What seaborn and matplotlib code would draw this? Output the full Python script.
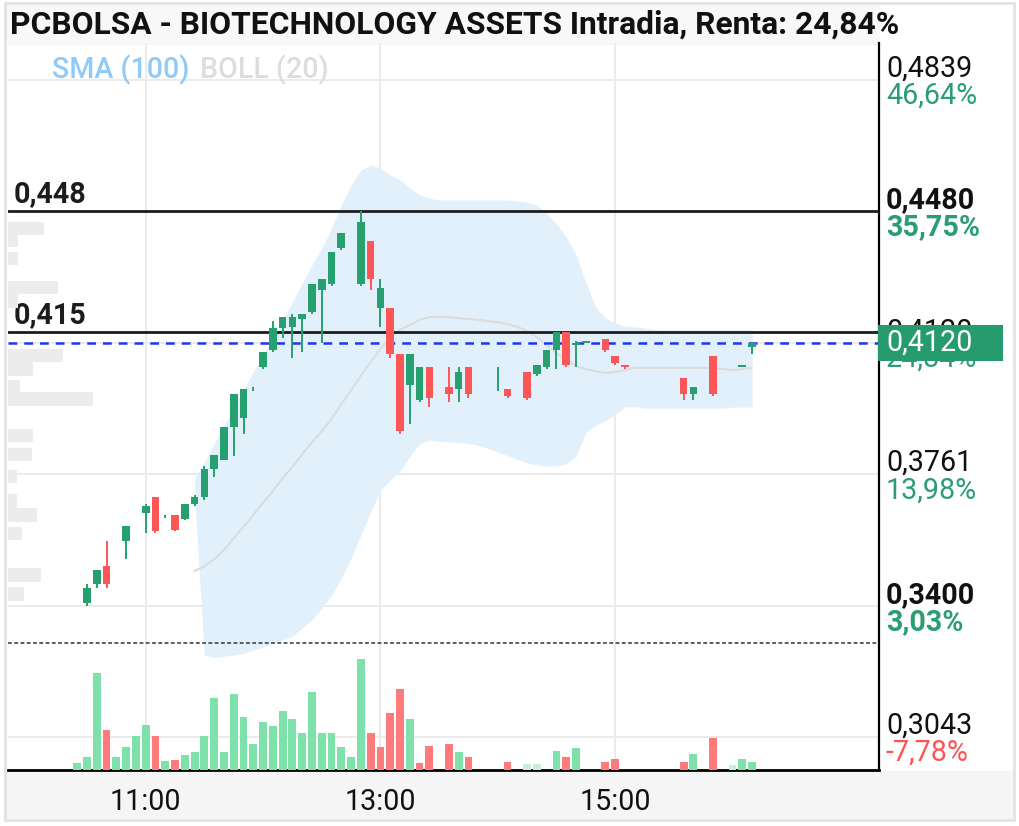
import numpy as np
import matplotlib
matplotlib.use("Agg")
import matplotlib.pyplot as plt
import matplotlib.transforms as mtransforms
from matplotlib.patches import Rectangle
import seaborn as sns

# ---------------- data ----------------
TITLE = "PCBOLSA - BIOTECHNOLOGY ASSETS Intradia, Renta: 24,84%"
PREV_CLOSE = 0.33
LAST = 0.412

# 5-minute candles, slot index relative to 11:00
candle_slot = [-6, -5, -4, -2, 0, 1, 2, 3, 4, 5, 6, 7, 8, 9, 10, 11, 12, 13, 14, 15,
               16, 17, 18, 19, 20, 22, 23, 24, 25, 26, 27, 28, 29, 31, 32, 33, 36, 37,
               39, 40, 41, 42, 43, 44, 45, 47, 48, 49, 55, 56, 58, 61, 62]
open_ = [0.341, 0.346, 0.351, 0.358, 0.3655, 0.370, 0.3647, 0.365, 0.364, 0.368,
         0.370, 0.3775, 0.380, 0.389, 0.3915, 0.3995, 0.4055, 0.410, 0.416, 0.4165,
         0.4185, 0.4205, 0.4265, 0.428, 0.438, 0.428, 0.440, 0.4215, 0.4215, 0.409,
         0.4005, 0.3965, 0.4055, 0.400, 0.3995, 0.4055, 0.4025, 0.3995,
         0.404, 0.4035, 0.4055, 0.410, 0.415, 0.4115, 0.412, 0.413, 0.4085, 0.406,
         0.4025, 0.398, 0.4085, 0.4055, 0.411]
high = [0.346, 0.350, 0.358, 0.362, 0.368, 0.370, 0.365, 0.365, 0.368, 0.3705,
        0.3785, 0.3815, 0.389, 0.398, 0.3995, 0.400, 0.4095, 0.418, 0.419, 0.420,
        0.420, 0.428, 0.4295, 0.437, 0.442, 0.448, 0.440, 0.4295, 0.4215, 0.409,
        0.409, 0.4055, 0.4055, 0.4055, 0.4055, 0.4055, 0.4055, 0.3995,
        0.404, 0.406, 0.410, 0.415, 0.415, 0.4125, 0.4125, 0.413, 0.4085, 0.406,
        0.4025, 0.400, 0.4085, 0.406, 0.412]
low = [0.340, 0.345, 0.345, 0.353, 0.360, 0.360, 0.3643, 0.3605, 0.3635, 0.3675,
       0.369, 0.3755, 0.380, 0.381, 0.387, 0.399, 0.405, 0.4095, 0.4135, 0.408,
       0.4095, 0.420, 0.412, 0.4275, 0.4375, 0.4275, 0.4265, 0.4165, 0.408, 0.387,
       0.390, 0.396, 0.3945, 0.396, 0.396, 0.397, 0.399, 0.397,
       0.3965, 0.403, 0.405, 0.405, 0.4055, 0.4055, 0.412, 0.4095, 0.406, 0.405,
       0.3965, 0.3965, 0.3975, 0.4055, 0.409]
close = [0.345, 0.350, 0.346, 0.362, 0.3675, 0.3605, 0.3647, 0.361, 0.368, 0.370,
         0.3775, 0.3815, 0.389, 0.398, 0.3995, 0.3995, 0.4095, 0.416, 0.419, 0.419,
         0.420, 0.428, 0.4295, 0.437, 0.442, 0.445, 0.4295, 0.427, 0.409, 0.388,
         0.409, 0.4055, 0.397, 0.398, 0.404, 0.398, 0.4025, 0.3975,
         0.397, 0.406, 0.410, 0.415, 0.406, 0.412, 0.4125, 0.410, 0.4065, 0.4055,
         0.398, 0.400, 0.398, 0.406, 0.412]

# volume per 5-minute slot
vol_slot = [-7, -6, -5, -4, -3, -2, -1, 0, 1, 2, 3, 4, 5, 6, 7, 8, 9, 10, 11, 12,
            13, 14, 15, 16, 17, 18, 19, 20, 21, 22, 23, 24, 25, 26, 27, 28, 29,
            31, 32, 33, 37, 39, 40, 42, 43, 44, 47, 48, 55, 56, 58, 60, 61, 62]
volume = [73, 127, 973, 400, 127, 233, 340, 447, 343, 93, 100, 150, 177, 343, 723,
          183, 757, 533, 260, 483, 443, 593, 510, 367, 780, 367, 367, 233, 127, 1107,
          373, 233, 567, 807, 510, 67, 240, 260, 183, 133, 77, 57, 57, 190, 133, 217,
          77, 110, 77, 157, 323, 50, 107, 77]
vol_dir = ["u", "u", "u", "d", "u", "u", "u", "u", "d", "u", "d", "u", "u", "u", "u",
           "u", "u", "u", "u", "u", "u", "u", "u", "u", "u", "u", "u", "u", "u", "u",
           "d", "d", "d", "d", "u", "d", "d", "d", "u", "d", "d", "f", "f", "u", "d",
           "u", "d", "d", "d", "u", "d", "f", "u", "u"]

# Bollinger (20) bands, slots 5..62
band_slot = list(range(5, 63))
boll_upper = [0.3751, 0.3795, 0.3844, 0.3896, 0.3942, 0.3991, 0.4041, 0.4087, 0.4134, 0.4183,
              0.4232, 0.4284, 0.4333, 0.4380, 0.4434, 0.4497, 0.4552, 0.4593, 0.4607, 0.4598,
              0.4579, 0.4566, 0.4544, 0.4525, 0.4516, 0.4511, 0.4511, 0.4511, 0.4511, 0.4511,
              0.4511, 0.4511, 0.4511, 0.4508, 0.4505, 0.4497, 0.4475, 0.4445, 0.4410, 0.4361,
              0.4287, 0.4218, 0.4188, 0.4175, 0.4166, 0.4164, 0.4161, 0.4158, 0.4156, 0.4156,
              0.4156, 0.4156, 0.4156, 0.4156, 0.4156, 0.4156, 0.4156, 0.4156]
boll_lower = [0.3700, 0.3267, 0.3261, 0.3264, 0.3267, 0.3272, 0.3281, 0.3289, 0.3300, 0.3308,
              0.3319, 0.3341, 0.3363, 0.3395, 0.3431, 0.3477, 0.3532, 0.3595, 0.3658, 0.3718,
              0.3745, 0.3770, 0.3810, 0.3845, 0.3855, 0.3852, 0.3850, 0.3848, 0.3846, 0.3840,
              0.3832, 0.3822, 0.3812, 0.3802, 0.3792, 0.3787, 0.3784, 0.3784, 0.3790, 0.3811,
              0.3875, 0.3895, 0.3908, 0.3925, 0.3945, 0.3946, 0.3942, 0.3942, 0.3942, 0.3942,
              0.3942, 0.3942, 0.3942, 0.3942, 0.3942, 0.3945, 0.3945, 0.3945]
boll_mid = [0.3497, 0.3510, 0.3529, 0.3554, 0.3587, 0.3617, 0.3650, 0.3683, 0.3715, 0.3751,
            0.3781, 0.3816, 0.3849, 0.3879, 0.3912, 0.3953, 0.3991, 0.4030, 0.4068, 0.4104,
            0.4134, 0.4156, 0.4169, 0.4183, 0.4191, 0.4191, 0.4191, 0.4188, 0.4186, 0.4183,
            0.4180, 0.4177, 0.4172, 0.4164, 0.4153, 0.4136, 0.4114, 0.4093, 0.4074, 0.4057,
            0.4049, 0.4043, 0.4038, 0.4041, 0.4046, 0.4052, 0.4052, 0.4052, 0.4052, 0.4052,
            0.4052, 0.4052, 0.4052, 0.4052, 0.4049, 0.4046, 0.4049, 0.4052]

# volume-at-price profile (left side)
profile_price = [0.4433, 0.4401, 0.4351, 0.4272, 0.4235, 0.4086, 0.4049, 0.4001, 0.3967,
                 0.3867, 0.3815, 0.3755, 0.3688, 0.3650, 0.3599, 0.3486, 0.3434]
profile_vol = [360, 100, 100, 500, 100, 550, 250, 120, 850, 250, 240, 90, 90, 290, 140, 330, 160]

# right axis ticks
tick_vals = [0.4839, 0.4480, 0.4120, 0.3761, 0.3400, 0.3043]
tick_txt = ["0,4839", "0,4480", "0,4120", "0,3761", "0,3400", "0,3043"]
pct_txt = ["46,64%", "35,75%", "24,84%", "13,98%", "3,03%", "-7,78%"]
tick_bold = [False, True, False, False, True, False]

levels = [0.448, 0.415]
level_txt = ["0,448", "0,415"]

time_ticks = [660, 780, 900]
time_labels = ["11:00", "13:00", "15:00"]

# ---------------- style ----------------
sns.set_theme(style="white")
plt.rcParams["font.family"] = ["Roboto", "DejaVu Sans"]

FS = 20.6
GREEN = "#26a06e"
RED = "#fd5656"
VGREEN = "#7fe1aa"
VRED = "#ff7b7b"
VPALE = "#c6f1d8"
PCT_G = "#2a9d72"
PCT_R = "#ff5252"

W, H = 1019, 826
fig = plt.figure(figsize=(W / 100, H / 100), dpi=100)
fig.patch.set_facecolor("white")

def fx(px):
    return px / W

def fy(py):
    return 1 - py / H

# background strips and frame
fig.add_artist(Rectangle((fx(6), fy(45)), fx(874), 40 / H, transform=fig.transFigure,
                         facecolor="#f8f8f8", edgecolor="none", zorder=0))
fig.add_artist(Rectangle((fx(6), fy(819)), fx(1007), 48 / H, transform=fig.transFigure,
                         facecolor="#f5f5f5", edgecolor="none", zorder=0))
fig.add_artist(Rectangle((fx(5), fy(820)), fx(1009), 817 / H, transform=fig.transFigure,
                         facecolor="none", edgecolor="#e2e2e2", lw=2, zorder=0))

ax = fig.add_axes([fx(8), fy(770), fx(871), (770 - 43) / H])
ax.set_facecolor("none")
ax.set_xlim(589.6, 1034.9)
ax.set_ylim(0.2953, 0.4940)

# grid
ax.set_yticks(tick_vals)
ax.set_yticklabels([])
ax.set_xticks(time_ticks)
ax.set_xticklabels(time_labels, fontsize=FS, color="#111111")
ax.tick_params(axis="both", length=0)
ax.tick_params(axis="x", pad=13)
ax.grid(True, color="#ebebeb", lw=1.4, zorder=0)
ax.set_axisbelow(True)
for s in ["left", "top"]:
    ax.spines[s].set_visible(False)
ax.spines["right"].set_color("black")
ax.spines["right"].set_linewidth(1.6)
ax.spines["bottom"].set_color("black")
ax.spines["bottom"].set_linewidth(2.0)

# Bollinger band
bt = 660 + 5 * np.array(band_slot)
ax.fill_between(bt, boll_lower, boll_upper, color="#e1f0fb", lw=0, zorder=1)
sns.lineplot(x=bt, y=boll_mid, ax=ax, color="#dcdcdc", lw=1.5, zorder=2)

# level lines
for lv, lt in zip(levels, level_txt):
    ax.axhline(lv, color="#1c1c1c", lw=2.0, zorder=3)
    ax.annotate(lt, xy=(0, lv), xycoords=("axes fraction", "data"), xytext=(4, 2),
                textcoords="offset points", ha="left", va="bottom", fontsize=FS,
                weight="bold", color="#1c1c1c", zorder=6)
ax.axhline(LAST, color="#1f35f0", lw=1.8, ls=(0, (3.5, 2.8)), zorder=3)
ax.axhline(PREV_CLOSE, color="#333333", lw=1.1, ls=(0, (2.5, 1.6)), zorder=3)

# candles
t = 660 + 5 * np.array(candle_slot)
o, h, l, c = map(np.array, (open_, high, low, close))
col = np.where(c >= o, GREEN, RED)
ax.vlines(t, l, h, colors=col, lw=1.4, zorder=4)
ax.bar(t, c - o, bottom=o, width=3.9, color=col, linewidth=0, zorder=5)

# volume bars
axv = ax.twinx()
axv.set_ylim(0, 7270)
axv.set_axis_off()
vt = 660 + 5 * np.array(vol_slot)
vcol = [VGREEN if d == "u" else (VRED if d == "d" else VPALE) for d in vol_dir]
axv.bar(vt, volume, width=4.0, color=vcol, linewidth=0)

# volume profile
axp = ax.twiny()
axp.set_xlim(0, 8710)
axp.set_axis_off()
axp.barh(profile_price, profile_vol, height=0.0036, left=0, color="#ececec", linewidth=0)

# right labels
for v, tt, pt, b in zip(tick_vals, tick_txt, pct_txt, tick_bold):
    ax.annotate(tt, xy=(1, v), xycoords=("axes fraction", "data"), xytext=(5, 8.4),
                textcoords="offset points", ha="left", va="center", fontsize=FS,
                weight="bold" if b else "normal", color="#111111", annotation_clip=False)
    ax.annotate(pt, xy=(1, v), xycoords=("axes fraction", "data"), xytext=(5, -11.4),
                textcoords="offset points", ha="left", va="center", fontsize=FS,
                weight="bold" if b else "normal",
                color=PCT_R if pt.startswith("-") else PCT_G, annotation_clip=False)

# last price box
trans = mtransforms.blended_transform_factory(ax.transAxes, ax.transData)
ax.add_patch(Rectangle((0.9988, LAST - 0.0048), 0.1435, 0.0096, transform=trans,
                       facecolor="#269c6e", edgecolor="none", clip_on=False, zorder=10))
ax.annotate("0,4120", xy=(1, LAST), xycoords=("axes fraction", "data"), xytext=(5, 0),
            textcoords="offset points", ha="left", va="center", fontsize=FS,
            color="white", annotation_clip=False, zorder=11)

# indicator legend
fig.text(fx(52), fy(70), "SMA (100)", fontsize=FS, weight="medium", color="#90caf9", va="center")
fig.text(fx(200), fy(70), "BOLL (20)", fontsize=FS, weight="medium", color="#dddddd", va="center")

# title
fig.text(fx(10), fy(25), TITLE, fontsize=22.9, weight="bold", color="#111111", va="center")

fig.savefig("out.png", dpi=100)
